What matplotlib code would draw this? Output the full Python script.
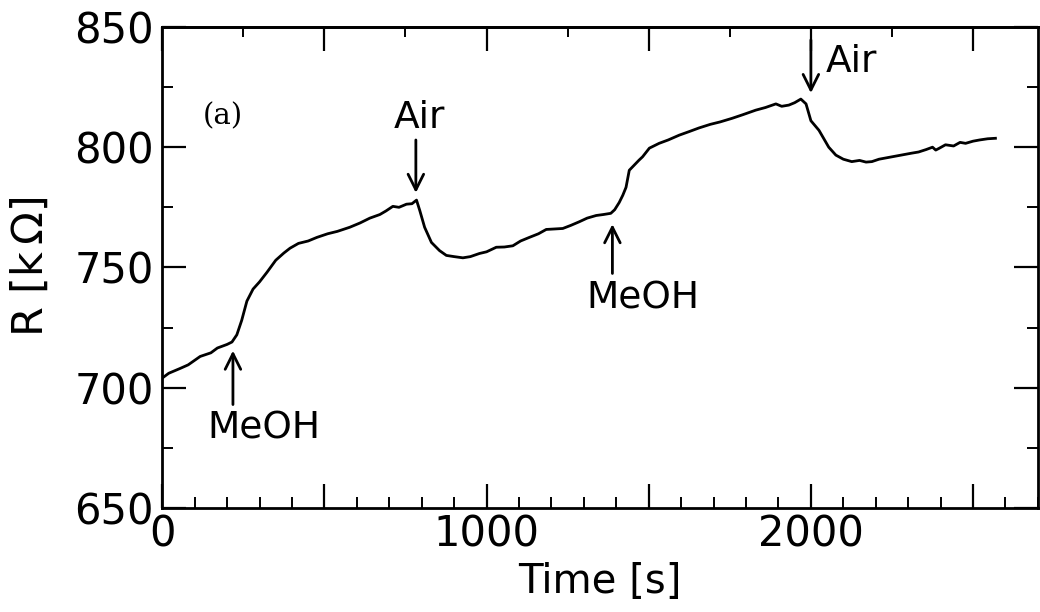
import matplotlib.pyplot as plt
from matplotlib.ticker import MultipleLocator

# Resistance trace
time_s = [0, 20, 55, 80, 117, 150, 170, 200, 215, 230, 245, 261, 280, 300, 323,
          350, 375, 394, 420, 450, 477, 510, 540, 578, 610, 640, 671, 690, 711,
          730, 753, 770, 784, 794, 809, 830, 855, 876, 900, 927, 950, 978, 1000,
          1030, 1055, 1081, 1105, 1132, 1160, 1184, 1210, 1235, 1260, 1286, 1310,
          1338, 1360, 1383, 1395, 1409, 1420, 1430, 1440, 1455, 1470, 1481, 1502,
          1532, 1560, 1594, 1625, 1655, 1690, 1720, 1757, 1790, 1830, 1860, 1892,
          1910, 1932, 1950, 1969, 1985, 2000, 2025, 2055, 2077, 2100, 2126, 2150,
          2170, 2188, 2210, 2230, 2250, 2270, 2290, 2310, 2332, 2355, 2375, 2385,
          2395, 2415, 2440, 2460, 2477, 2500, 2520, 2545, 2569]
resistance = [704, 706, 708, 709.5, 713, 714.5, 716.5, 718, 719, 722, 728, 736, 741,
              744, 748, 753, 756, 758, 760, 761, 762.5, 764, 765, 766.7, 768.5,
              770.5, 772, 773.5, 775.4, 775, 776.3, 776.5, 778, 773.7, 766.7, 760.4,
              757, 755, 754.5, 754, 754.5, 755.8, 756.5, 758.4, 758.5, 759, 761,
              762.5, 764, 765.8, 766, 766.2, 767.5, 769, 770.5, 771.6, 772, 772.5,
              774, 777, 780, 783.3, 790.4, 792.5, 794.6, 796, 799.6, 801.6, 803,
              805, 806.5, 808, 809.5, 810.5, 812, 813.5, 815.4, 816.5, 818, 817,
              817.5, 818.5, 820, 818, 811, 807, 800, 796.7, 795, 794, 794.5, 793.8,
              794, 795, 795.5, 796, 796.5, 797, 797.5, 798, 799, 800, 798.8, 799.5,
              801, 800.5, 802, 801.6, 802.5, 803, 803.5, 803.7]

# Gas switching events: (label, time, arrow tip, arrow tail, text x, text y, alignment)
events = [
    ("MeOH", 218, 715.4, 693, 313, 683, "center"),
    ("Air", 782, 781, 803, 794, 812, "center"),
    ("MeOH", 1388, 768, 747.5, 1483, 737, "center"),
    ("Air", 2000, 822.5, 844.6, 2046, 835.4, "left"),
]

fig = plt.figure(figsize=(10.4, 6.12), dpi=100)
ax = fig.add_axes([0.156, 0.170, 0.842, 0.786])

ax.plot(time_s, resistance, color="black", lw=2)

for label, t, tip, tail, tx, ty, ha in events:
    ax.annotate("", xy=(t, tip), xytext=(t, tail),
                arrowprops=dict(arrowstyle="->", lw=2, color="black",
                                mutation_scale=28, shrinkA=0, shrinkB=0))
    ax.text(tx, ty, label, fontsize=27, ha=ha, va="center")

ax.text(188, 813, "(a)", fontsize=21, family="DejaVu Serif", ha="center", va="center")

ax.set_xlim(0, 2700)
ax.set_ylim(650, 850)
ax.xaxis.set_minor_locator(MultipleLocator(100))
ax.yaxis.set_major_locator(MultipleLocator(50))
ax.yaxis.set_minor_locator(MultipleLocator(25))

# bottom axis has major ticks every 500 s, labels only on thousands
ax.set_xticks([0, 500, 1000, 1500, 2000, 2500])
ax.set_xticklabels(["0", "", "1000", "", "2000", ""])

ax.tick_params(which="major", direction="in", length=17, width=1.6,
               labelsize=30, right=True, pad=6)
ax.tick_params(which="minor", direction="in", length=8, width=1.4, right=True)
ax.tick_params(axis="x", which="major", pad=4)

top = ax.secondary_xaxis("top")
top.set_xticks([0, 500, 1000, 1500, 2000, 2500])
top.xaxis.set_minor_locator(MultipleLocator(250))
top.tick_params(which="major", direction="in", length=17, width=1.6, labeltop=False)
top.tick_params(which="minor", direction="in", length=7, width=1.4)

for spine in list(ax.spines.values()) + list(top.spines.values()):
    spine.set_linewidth(2)

ax.set_xlabel("Time [s]", fontsize=29, labelpad=5)
ax.set_ylabel("R [k$\\,\\Omega$]", fontsize=31, labelpad=16)

plt.savefig("out.png", dpi=100)
